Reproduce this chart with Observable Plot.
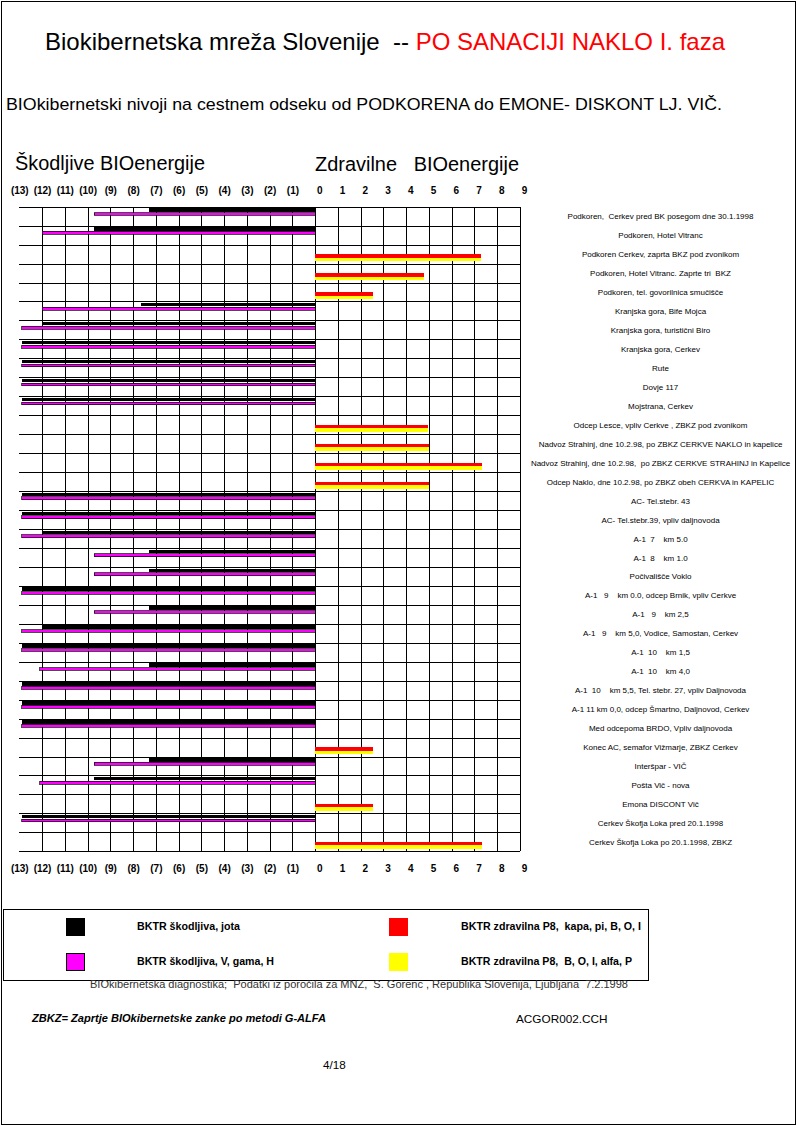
<!DOCTYPE html>
<html>
<head>
<meta charset="utf-8">
<script src="https://cdn.jsdelivr.net/npm/d3@7"></script>
<script src="https://cdn.jsdelivr.net/npm/@observablehq/plot@0.6"></script>
<style>
  html, body { margin: 0; padding: 0; background: #fff; }
  #page { position: relative; width: 797px; height: 1126px; overflow: hidden; font-family: "Liberation Sans", Arial, sans-serif; }
  #border { position: absolute; left: 1px; top: 1px; width: 793px; height: 1122px; border: 1px solid #000; }
  .t { position: absolute; white-space: pre; line-height: 1; transform-origin: 0 50%; }
  #chart { position: absolute; left: 0; top: 140px; }
  #chart svg text { white-space: pre; }
  .legbox { position: absolute; left: 3px; top: 909px; width: 644px; height: 70px; border: 1px solid #000; }
  .sw { position: absolute; box-sizing: border-box; }
</style>
</head>
<body>
<div id="page"><div id="border"></div><div id="chart"></div></div>
<script>
// ---------- data ----------
const labels = [
  "Podkoren,  Cerkev pred BK posegom dne 30.1.1998",
  "Podkoren, Hotel Vitranc",
  "Podkoren Cerkev, zaprta BKZ pod zvonikom",
  "Podkoren, Hotel Vitranc. Zaprte tri  BKZ",
  "Podkoren, tel. govorilnica smučišče",
  "Kranjska gora, Bife Mojca",
  "Kranjska gora, turistični Biro",
  "Kranjska gora, Cerkev",
  "Rute",
  "Dovje 117",
  "Mojstrana, Cerkev",
  "Odcep Lesce, vpliv Cerkve , ZBKZ pod zvonikom",
  "Nadvoz Strahinj, dne 10.2.98, po ZBKZ CERKVE NAKLO in kapelice",
  "Nadvoz Strahinj, dne 10.2.98,  po ZBKZ CERKVE STRAHINJ in Kapelice",
  "Odcep Naklo, dne 10.2.98, po ZBKZ obeh CERKVA in KAPELIC",
  "AC- Tel.stebr. 43",
  "AC- Tel.stebr.39, vpliv daljnovoda",
  "A-1  7    km 5.0",
  "A-1  8    km 1.0",
  "Počivališče Voklo",
  "A-1   9    km 0.0, odcep Brnik, vpliv Cerkve",
  "A-1   9    km 2,5",
  "A-1   9    km 5,0, Vodice, Samostan, Cerkev",
  "A-1  10    km 1,5",
  "A-1  10    km 4,0",
  "A-1  10    km 5,5, Tel. stebr. 27, vpliv Daljnovoda",
  "A-1 11 km 0,0, odcep Šmartno, Daljnovod, Cerkev",
  "Med odcepoma BRDO, Vpliv daljnovoda",
  "Konec AC, semafor Vižmarje, ZBKZ Cerkev",
  "Interšpar - VIČ",
  "Pošta Vič - nova",
  "Emona DISCONT Vič",
  "Cerkev Škofja Loka pred 20.1.1998",
  "Cerkev Škofja Loka po 20.1.1998, ZBKZ"
];
// BKTR škodljiva, jota (black)
const jota = [-7.3, -9.7, null, null, null, -7.65, -12, -12.9, -12.9, -12.9, -12.9, null, null, null, null,
  -12.9, -12.9, -12, -7.3, -7.3, -12.9, -7.3, -12, -12.9, -7.3, -12.9, -12.9, -12.9, null, -7.3, -9.7, null, -12.9, null];
// BKTR škodljiva, V, gama, H (magenta)
const gama = [-9.7, -12, null, null, null, -12, -12.9, -12.9, -12.9, -12.9, -12.9, null, null, null, null,
  -12.9, -12.9, -12.9, -9.7, -9.7, -12.9, -9.7, -12.9, -12.9, -12.1, -12.9, -12.9, -12.9, null, -9.7, -12.1, null, -12.9, null];
// BKTR zdravilna P8, kapa, pi, B, O, I (red)
const kapa = [null, null, 7.3, 4.8, 2.55, null, null, null, null, null, null, 4.95, 5.0, 7.35, 5.0,
  null, null, null, null, null, null, null, null, null, null, null, null, null, 2.55, null, null, 2.55, null, 7.35];
// BKTR zdravilna P8, B, O, I, alfa, P (yellow)
const alfa = [null, null, 7.3, 4.8, 2.55, null, null, null, null, null, null, 4.95, 5.0, 7.35, 5.0,
  null, null, null, null, null, null, null, null, null, null, null, null, null, 2.55, null, null, 2.55, null, 7.35];

const negTicks = [-13, -12, -11, -10, -9, -8, -7, -6, -5, -4, -3, -2, -1];
const posTicks = [0, 1, 2, 3, 4, 5, 6, 7, 8, 9];

const seriesNames = ["BKTR škodljiva, jota", "BKTR škodljiva, V, gama, H",
  "BKTR zdravilna P8,  kapa, pi, B, O, I", "BKTR zdravilna P8,  B, O, I, alfa, P"];
const seriesColors = ["#000000", "#ff00ff", "#ff0000", "#ffff00"];

const titleBlack = "Biokibernetska mreža Slovenije  -- ";
const titleRed = "PO SANACIJI NAKLO I. faza";
const subtitle = "BIOkibernetski nivoji na cestnem odseku od PODKORENA do EMONE- DISKONT LJ. VIČ.";
const leftHeading = "Škodljive BIOenergije";
const rightHeading = "Zdravilne   BIOenergije";
const sourceNote = "BIOkibernetska diagnostika;  Podatki iz poročila za MNZ,  S. Gorenc , Republika Slovenija, Ljubljana  7.2.1998";
const zbkzNote = "ZBKZ= Zaprtje BIOkibernetske zanke po metodi G-ALFA";
const fileNote = "ACGOR002.CCH";
const pageNote = "4/18";

// ---------- helpers ----------
const page = document.getElementById("page");
function place(html, {left, cy, width, size, weight = "normal", style = "normal", color = "#000"}) {
  const el = document.createElement("div");
  el.className = "t";
  el.innerHTML = html;
  el.style.left = left + "px";
  el.style.top = cy + "px";
  el.style.fontSize = size + "px";
  el.style.fontWeight = weight;
  el.style.fontStyle = style;
  el.style.color = color;
  page.appendChild(el);
  const w = el.getBoundingClientRect().width;
  const k = width ? width / w : 1;
  el.style.transform = `translateY(-50%) scaleX(${k})`;
  return el;
}

// ---------- headings ----------
place(`${titleBlack}<span style="color:#ff0000">${titleRed}</span>`, {left: 45, cy: 42, width: 680, size: 24});
place(subtitle, {left: 6, cy: 104, width: 716, size: 17});
place(leftHeading, {left: 15, cy: 163, width: 190, size: 20});
place(rightHeading, {left: 315, cy: 164, width: 204, size: 20});

// ---------- chart ----------
const rows = labels.map((label, i) => ({label, jota: jota[i], gama: gama[i], kapa: kapa[i], alfa: alfa[i]}));
const H = 740, mt = 66.7, mb = 28.7;
const bw = (H - mt - mb) / labels.length;

const chart = Plot.plot({
  width: 797,
  height: H,
  marginLeft: 19.3,
  marginRight: 277,
  marginTop: mt,
  marginBottom: mb,
  style: {fontFamily: '"Liberation Sans", Arial, sans-serif', background: "transparent", shapeRendering: "crispEdges"},
  x: {domain: [-13, 9], axis: null},
  y: {type: "band", domain: labels, padding: 0, round: false, axis: null},
  marks: [
    // grid
    Plot.ruleX(negTicks.filter(d => d > -13).concat(posTicks), {stroke: "#000", strokeWidth: 1}),
    Plot.ruleY(labels, {y: d => d, x1: -13, x2: 9, dy: -bw / 2, stroke: "#000", strokeWidth: 1}),
    Plot.ruleY(labels.slice(-1), {y: d => d, x1: -13, x2: 9, dy: bw / 2, stroke: "#000", strokeWidth: 1}),
    // bars
    Plot.barX(rows.filter(d => d.jota != null), {y: "label", x1: 0, x2: "jota", fill: seriesColors[0], insetTop: 1.6, insetBottom: bw - 5}),
    Plot.barX(rows.filter(d => d.gama != null), {y: "label", x1: 0, x2: "gama", fill: seriesColors[1], stroke: "#000", strokeWidth: 0.7, insetTop: 5.8, insetBottom: bw - 8.6}),
    Plot.barX(rows.filter(d => d.kapa != null), {y: "label", x1: 0, x2: "kapa", fill: seriesColors[2], insetTop: 9.4, insetBottom: bw - 13}),
    Plot.barX(rows.filter(d => d.alfa != null), {y: "label", x1: 0, x2: "alfa", fill: seriesColors[3], insetTop: 13, insetBottom: bw - 16.8}),
    // category labels
    Plot.text(labels, {y: d => d, frameAnchor: "right", dx: 140, textAnchor: "middle", fontSize: 8, fill: "#000"}),
    // tick labels top and bottom
    Plot.text(negTicks, {x: d => d, text: d => `(${-d})`, frameAnchor: "top", dy: -20.7, fontSize: 10, fontWeight: "bold"}),
    Plot.text(posTicks, {x: d => d, text: d => `${d}`, frameAnchor: "top", dy: -20.7, dx: 4, fontSize: 10, fontWeight: "bold"}),
    Plot.text(negTicks, {x: d => d, text: d => `(${-d})`, frameAnchor: "bottom", dy: 19.7, fontSize: 10, fontWeight: "bold"}),
    Plot.text(posTicks, {x: d => d, text: d => `${d}`, frameAnchor: "bottom", dy: 19.7, dx: 4, fontSize: 10, fontWeight: "bold"})
  ]
});
document.getElementById("chart").appendChild(chart);

// ---------- legend ----------
const box = document.createElement("div");
box.className = "legbox";
page.appendChild(box);
const legPos = [
  {sx: 66, sy: 918, tx: 137, ty: 927, tw: 103},
  {sx: 66, sy: 953, tx: 137, ty: 962, tw: 137},
  {sx: 389, sy: 918, tx: 460.6, ty: 927, tw: 180},
  {sx: 389, sy: 953, tx: 460.6, ty: 962, tw: 171}
];
seriesNames.forEach((name, i) => {
  const p = legPos[i];
  const sw = document.createElement("div");
  sw.className = "sw";
  sw.style.left = p.sx + "px";
  sw.style.top = p.sy + "px";
  sw.style.width = "19px";
  sw.style.height = "18px";
  sw.style.background = seriesColors[i];
  if (i === 1) sw.style.border = "1px solid #000";
  page.appendChild(sw);
  place(name, {left: p.tx, cy: p.ty, width: p.tw, size: 10, weight: "bold"});
});

// ---------- footer ----------
place(sourceNote, {left: 89.5, cy: 984, width: 538, size: 10.5, color: "#333"});
place(zbkzNote, {left: 31.5, cy: 1019, width: 294, size: 10, weight: "bold", style: "italic"});
place(fileNote, {left: 516, cy: 1019, width: 91.5, size: 11});
place(pageNote, {left: 323, cy: 1065, width: 22.7, size: 11});
</script>
</body>
</html>
